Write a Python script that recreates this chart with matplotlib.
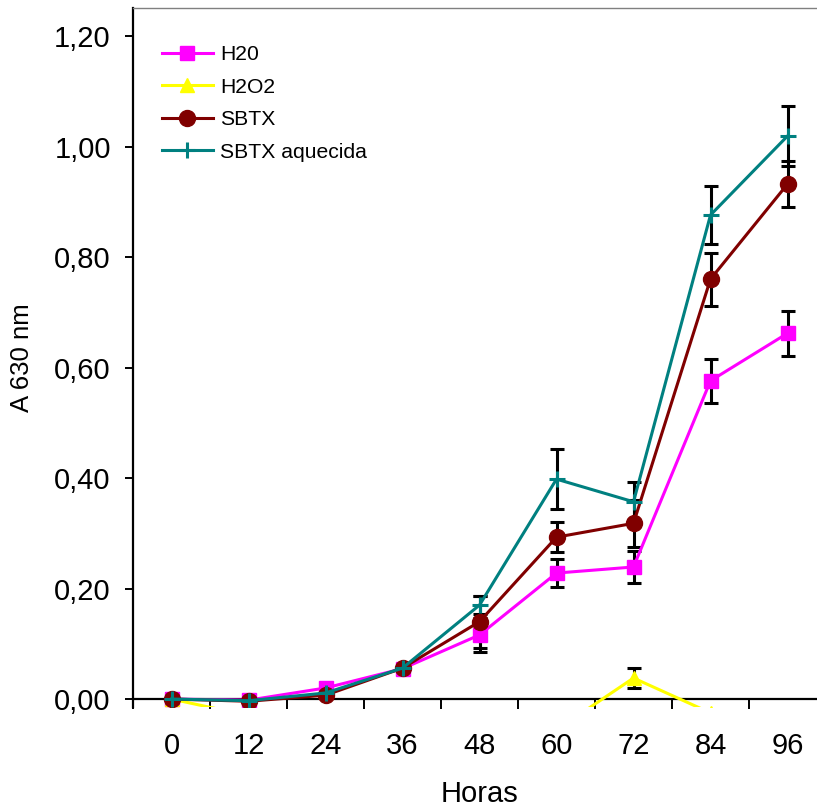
import matplotlib
matplotlib.use("Agg")
import matplotlib.pyplot as plt
from matplotlib.ticker import FuncFormatter, FixedLocator

plt.rcParams['font.family'] = ['Liberation Sans', 'DejaVu Sans']

hours = [0, 12, 24, 36, 48, 60, 72, 84, 96]

h2o = [0.0, -0.002, 0.020, 0.055, 0.116, 0.228, 0.239, 0.576, 0.662]
h2o_err = [0, 0.006, 0.004, 0.003, 0.031, 0.026, 0.029, 0.040, 0.041]

h2o2 = [0.0, -0.03, -0.04, -0.045, -0.05, -0.056, 0.038, -0.025, -0.04]
h2o2_err = [0, 0.005, 0.005, 0.005, 0.005, 0.005, 0.018, 0.005, 0.005]

sbtx = [0.0, -0.004, 0.007, 0.056, 0.140, 0.293, 0.318, 0.760, 0.932]
sbtx_err = [0, 0.006, 0.004, 0.004, 0.047, 0.027, 0.043, 0.048, 0.042]

aquecida = [0.0, -0.003, 0.011, 0.056, 0.170, 0.398, 0.357, 0.876, 1.019]
aquecida_err = [0, 0.006, 0.004, 0.004, 0.016, 0.054, 0.036, 0.053, 0.054]

series = [
    ("H20", h2o, h2o_err, "#FF00FF", "s", 10.5),
    ("H2O2", h2o2, h2o2_err, "#FFFF00", "^", 10.5),
    ("SBTX", sbtx, sbtx_err, "#800000", "o", 11.5),
    ("SBTX aquecida", aquecida, aquecida_err, "#008080", "+", 11),
]

fig = plt.figure(figsize=(8.17, 8.08), dpi=100)
ax = fig.add_axes([133 / 817, (808 - 706.5) / 808, 693 / 817, 698.5 / 808])

# error bars first, lines on top
for name, vals, err, col, mk, ms in series:
    ax.errorbar(hours, vals, yerr=err, fmt='none', ecolor='black',
                elinewidth=2.2, capsize=5, capthick=2.2, zorder=2)

for name, vals, err, col, mk, ms in series:
    ax.plot(hours, vals, color=col, marker=mk, markersize=ms, linewidth=2.2,
            markeredgewidth=2.2 if mk == '+' else 1, markeredgecolor=col,
            label=name, zorder=3)

ax.set_xlim(-6, 102)
ax.set_ylim(-0.0135, 1.2507)

ax.spines['right'].set_visible(False)
ax.spines['top'].set_color('#808080')
ax.spines['top'].set_linewidth(1)
ax.spines['left'].set_linewidth(1.6)
ax.spines['bottom'].set_position(('data', 0))
ax.spines['bottom'].set_linewidth(1.6)

ax.set_yticks([0, 0.2, 0.4, 0.6, 0.8, 1.0, 1.2])
ax.yaxis.set_major_formatter(FuncFormatter(lambda v, p: f"{v:.2f}".replace('.', ',')))
ax.tick_params(axis='y', direction='out', length=6, width=1.4, labelsize=21, pad=10)

ax.set_xticks(hours)
ax.set_xticklabels([str(h) for h in hours])
ax.xaxis.set_minor_locator(FixedLocator([h - 6 for h in hours] + [102]))
ax.tick_params(axis='x', which='major', length=0, labelsize=21, pad=24)
ax.tick_params(axis='x', which='minor', direction='out', length=7, width=1.4)

ax.set_xlabel("Horas", fontsize=21)
ax.xaxis.set_label_coords(0.5, -0.105)
ax.set_ylabel("A 630 nm", fontsize=18.5)
ax.yaxis.set_label_coords(-0.143, 0.5)

ax.legend(loc='upper left', bbox_to_anchor=(0.042, 0.947), frameon=False,
          fontsize=15.2, handlelength=2.4, handletextpad=0.35,
          labelspacing=0.64, borderpad=0, borderaxespad=0)

fig.savefig("out.png", dpi=100)
